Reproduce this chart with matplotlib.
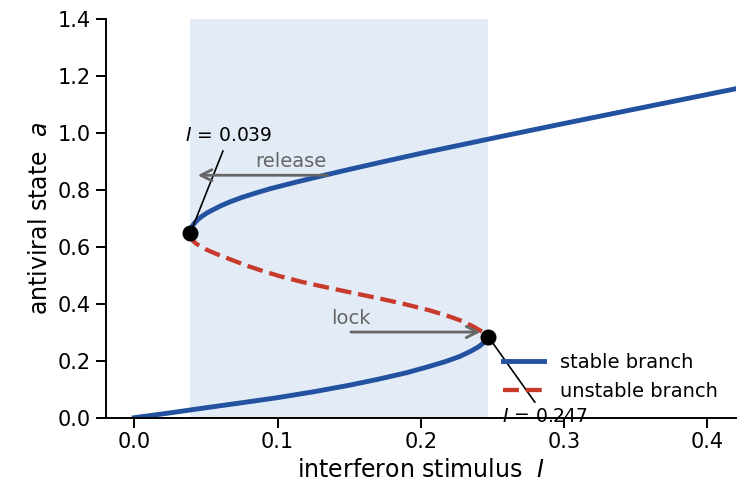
import matplotlib
matplotlib.use("Agg")
import matplotlib.pyplot as plt

# values
lower_I = [0.0, 0.025, 0.05, 0.075, 0.1, 0.125, 0.15, 0.17, 0.19, 0.205, 0.217, 0.227, 0.235,
           0.2405, 0.244, 0.246, 0.247]
lower_a = [0.0, 0.017, 0.035, 0.0525, 0.0705, 0.091, 0.114, 0.135, 0.158, 0.179, 0.197, 0.215, 0.234,
           0.250, 0.264, 0.275, 0.285]

unstable_I = [0.039, 0.0393, 0.040, 0.0413, 0.043, 0.0464, 0.051, 0.058, 0.067, 0.078, 0.09, 0.1017,
              0.118, 0.136, 0.153, 0.171, 0.188, 0.2055, 0.218, 0.2286, 0.236, 0.2415, 0.245,
              0.2465, 0.247]
unstable_a = [0.648, 0.638, 0.629, 0.62, 0.612, 0.601, 0.589, 0.574, 0.5565, 0.535, 0.515, 0.497,
              0.476, 0.456, 0.438, 0.419, 0.400, 0.378, 0.359, 0.340, 0.322, 0.306, 0.295,
              0.289, 0.285]

upper_I = [0.039, 0.0392, 0.0396, 0.0402, 0.041, 0.0425, 0.0445, 0.047, 0.0505, 0.055, 0.0605,
           0.067, 0.075, 0.085, 0.095, 0.1052, 0.117, 0.1285, 0.147, 0.175, 0.2, 0.25, 0.3,
           0.35, 0.4207]
upper_a = [0.648, 0.657, 0.664, 0.671, 0.677, 0.687, 0.697, 0.707, 0.719, 0.731, 0.745,
           0.759, 0.774, 0.790, 0.805, 0.818, 0.833, 0.847, 0.869, 0.901, 0.929, 0.982, 1.034,
           1.085, 1.157]

fold_I = [0.039, 0.247]
fold_a = [0.648, 0.285]

blue = "#2352a0"
red = "#c83a2c"
grey = "#666666"

plt.rcParams['font.family'] = ['DejaVu Sans']
fig = plt.figure(figsize=(7.47, 5.03), dpi=100)
ax = fig.add_axes([0.1415, 0.1696, 0.8439, 0.792])

# bistable window
ax.axvspan(fold_I[0], fold_I[1], color="#e3ebf6", lw=0, zorder=0)

ax.plot(lower_I, lower_a, color=blue, lw=3.5, label="stable branch")
ax.plot(upper_I, upper_a, color=blue, lw=3.5)
ax.plot(unstable_I, unstable_a, color=red, lw=3.1, ls="--", label="unstable branch")
ax.plot(fold_I, fold_a, "o", color="black", ms=10.5, zorder=5)

# fold labels
ax.annotate(r"$I$ = 0.039", xy=(fold_I[0], fold_a[0]), xytext=(0.066, 0.99),
            fontsize=13.5, ha="center", va="center",
            arrowprops=dict(arrowstyle="-", color="black", lw=1.2, shrinkB=0))
ax.annotate(r"$I$ = 0.247", xy=(fold_I[1], fold_a[1]), xytext=(0.2868, 0.003),
            fontsize=13.5, ha="center", va="center", annotation_clip=False,
            arrowprops=dict(arrowstyle="-", color="black", lw=1.2, shrinkB=0))

# hysteresis arrows
ax.annotate("", xy=(0.0423, 0.852), xytext=(0.1367, 0.852),
            arrowprops=dict(arrowstyle="->", color=grey, lw=2, mutation_scale=20))
ax.text(0.1095, 0.901, "release", color=grey, fontsize=14, ha="center", va="center")
ax.annotate("", xy=(0.2435, 0.301), xytext=(0.1492, 0.301),
            arrowprops=dict(arrowstyle="->", color=grey, lw=2, mutation_scale=20))
ax.text(0.151, 0.350, "lock", color=grey, fontsize=14, ha="center", va="center")

ax.set_xlim(-0.02, 0.42)
ax.set_ylim(0, 1.4)
ax.set_xticks([0.0, 0.1, 0.2, 0.3, 0.4])
ax.set_yticks([0.0, 0.2, 0.4, 0.6, 0.8, 1.0, 1.2, 1.4])
ax.tick_params(labelsize=15, length=7, width=1.4)
ax.spines["top"].set_visible(False)
ax.spines["right"].set_visible(False)
for s in ["left", "bottom"]:
    ax.spines[s].set_linewidth(1.4)

ax.set_xlabel(r"interferon stimulus  $I$", fontsize=17)
ax.set_ylabel(r"antiviral state  $a$", fontsize=17)

ax.legend(loc="lower right", bbox_to_anchor=(0.992, 0.008), frameon=False, fontsize=14,
          handlelength=2.1, borderaxespad=0.3)

fig.savefig("out.png", dpi=100)
